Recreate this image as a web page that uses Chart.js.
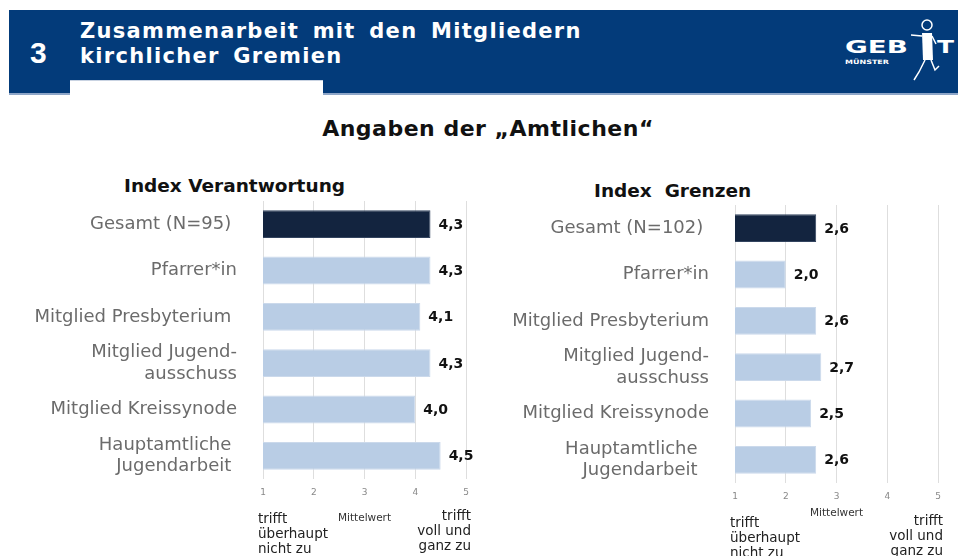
<!DOCTYPE html>
<html>
<head>
<meta charset="utf-8">
<script src="https://cdn.jsdelivr.net/npm/chart.js@4.4.1/dist/chart.umd.min.js"></script>
<style>
  body { margin: 0; width: 958px; height: 556px; position: relative; overflow: hidden; background: #fff; font-family: 'DejaVu Sans', sans-serif; }
  .abs { position: absolute; }
  #band { left: 9px; top: 10px; width: 949px; height: 83px; background: #033b7a; border-bottom: 2px solid #8ea6c8; }
  #tab { left: 70px; top: 80px; width: 253px; height: 17px; background: #fff; border-top: 1px solid #c9d3e2; }
  #num { left: 30px; top: 36px; color: #fff; font: bold 30px 'Liberation Sans', sans-serif; }
  #title { left: 80px; top: 19px; color: #fff; font: bold 21px 'DejaVu Sans', sans-serif; line-height: 25px; letter-spacing: 1.3px; word-spacing: 5px; }
  #logo { left: 843px; top: 14px; width: 115px; height: 72px; }
  #sub { left: 0; width: 976px; top: 116px; text-align: center; font: bold 22px 'DejaVu Sans', sans-serif; letter-spacing: 0.5px; color: #111; }
  .ctitle { top: 175px; font: bold 18.5px 'DejaVu Sans', sans-serif; color: #111; white-space: pre; }
  canvas { position: absolute; }
</style>
</head>
<body>
<div id="band" class="abs"></div>
<div id="tab" class="abs"></div>
<div id="num" class="abs">3</div>
<div id="title" class="abs">Zusammenarbeit mit den Mitgliedern<br>kirchlicher Gremien</div>
<svg id="logo" class="abs" viewBox="0 0 115 72">
  <text x="2" y="39" fill="#fff" font-family="DejaVu Sans" font-weight="bold" font-size="18" textLength="63" lengthAdjust="spacingAndGlyphs">GEB</text>
  <text x="94" y="39" fill="#fff" font-family="DejaVu Sans" font-weight="bold" font-size="18" textLength="17" lengthAdjust="spacingAndGlyphs">T</text>
  <text x="2" y="50" fill="#fff" font-family="DejaVu Sans" font-weight="bold" font-size="6" textLength="44" lengthAdjust="spacingAndGlyphs">MÜNSTER</text>
  <!-- running figure standing in for the I -->
  <circle cx="84" cy="11" r="5" fill="none" stroke="#fff" stroke-width="1.5"/>
  <path d="M79 19 L89 19 L90 46 L80 46 Z" fill="#fff"/>
  <path d="M79 22 L68 21 M89 22 L93 30 M82 46 L76 58 L71 66 M88 46 L92 56 L96 52" fill="none" stroke="#fff" stroke-width="1.5"/>
</svg>
<div id="sub" class="abs">Angaben der „Amtlichen“</div>
<div class="ctitle abs" style="left:124px">Index Verantwortung</div>
<div class="ctitle abs" style="left:594px;top:180px">Index  Grenzen</div>

<canvas id="left" style="left:0;top:170px" width="480" height="386"></canvas>
<canvas id="right" style="left:480px;top:170px" width="478" height="386"></canvas>

<script>
// rows, top to bottom
var groupsVerantwortung = ['Gesamt (N=95) ', 'Pfarrer*in', 'Mitglied Presbyterium ', ['Mitglied Jugend-', 'ausschuss'], 'Mitglied Kreissynode', ['Hauptamtliche ', 'Jugendarbeit ']]
var valuesVerantwortung = [4.3, 4.3, 4.1, 4.3, 4.0, 4.5]

var groupsGrenzen = ['Gesamt (N=102) ', 'Pfarrer*in', 'Mitglied Presbyterium', ['Mitglied Jugend-', 'ausschuss'], 'Mitglied Kreissynode', ['Hauptamtliche  ', 'Jugendarbeit  ']]
var valuesGrenzen = [2.6, 2.0, 2.6, 2.7, 2.5, 2.6]

var scaleTicks = [1, 2, 3, 4, 5]
var lowEndText = ['trifft', 'überhaupt', 'nicht zu']
var highEndText = ['trifft', 'voll und', 'ganz zu']
var middleText = 'Mittelwert'

var DARK = '#13243f'
var LIGHT = '#b9cde5'

Chart.defaults.font.family = "'DejaVu Sans', sans-serif"
Chart.defaults.animation = false

// "4,3" next to each bar end
var valueLabels = {
  id: 'valueLabels',
  afterDatasetsDraw(chart) {
    var ctx = chart.ctx
    var meta = chart.getDatasetMeta(0)
    ctx.save()
    ctx.font = 'bold 14px "DejaVu Sans"'
    ctx.fillStyle = '#111'
    ctx.textBaseline = 'middle'
    meta.data.forEach(function (bar, i) {
      var v = chart.data.datasets[0].data[i]
      ctx.fillText(v.toFixed(1).replace('.', ','), bar.x + 8, bar.y + 1)
    })
    ctx.restore()
  }
}

// scale captions under the axis
var scaleCaptions = {
  id: 'scaleCaptions',
  afterDraw(chart, args, opts) {
    var ctx = chart.ctx
    var x = chart.scales.x
    var bottom = chart.chartArea.bottom
    ctx.save()
    ctx.fillStyle = '#222'
    ctx.textBaseline = 'middle'
    ctx.font = '13.5px "DejaVu Sans"'
    ctx.textAlign = 'left'
    lowEndText.forEach(function (t, i) {
      ctx.fillText(t, x.getPixelForValue(1) - 5, bottom + opts.lowY + i * 15)
    })
    ctx.textAlign = 'right'
    highEndText.forEach(function (t, i) {
      ctx.fillText(t, x.getPixelForValue(5) + 5, bottom + opts.highY + i * 15)
    })
    ctx.textAlign = 'center'
    ctx.font = '10.5px "DejaVu Sans"'
    ctx.fillStyle = '#333'
    ctx.fillText(middleText, x.getPixelForValue(3), bottom + opts.midY)
    ctx.restore()
  }
}

function makeChart(el, labels, values, dims) {
  return new Chart(el, {
    type: 'bar',
    data: {
      labels: labels,
      datasets: [{
        data: values,
        backgroundColor: values.map((v, i) => i === 0 ? DARK : LIGHT),
        borderColor: values.map((v, i) => i === 0 ? '#33445f' : '#cbd9eb'),
        borderWidth: 1,
        borderSkipped: false,
        barPercentage: 0.6,
        categoryPercentage: 1
      }]
    },
    options: {
      indexAxis: 'y',
      responsive: false,
      layout: { padding: { top: dims.top, right: dims.right, left: 0, bottom: 0 } },
      plugins: {
        legend: { display: false },
        tooltip: { enabled: false },
        scaleCaptions: dims.captions
      },
      scales: {
        x: {
          min: 1,
          max: 5,
          afterBuildTicks: s => { s.ticks = scaleTicks.map(v => ({ value: v })) },
          grid: { color: '#dedede', drawTicks: false },
          border: { display: false },
          ticks: { padding: 8, color: '#888', font: { size: 9 } },
          afterFit: s => { s.height = dims.axisH }
        },
        y: {
          grid: { display: false },
          border: { display: false },
          ticks: { autoSkip: false, padding: 18, color: '#6b6b6b', font: { size: 18, lineHeight: 1.22 } },
          afterFit: s => {
            s.width = dims.labelW
            // labels stay inside the rows, no extra room above or below
            s.paddingTop = 0
            s.paddingBottom = 0
          }
        }
      }
    },
    plugins: [valueLabels, scaleCaptions]
  })
}

makeChart(document.getElementById('left'), groupsVerantwortung, valuesVerantwortung, {
  top: 31, right: 14, axisH: 77, labelW: 263,
  captions: { lowY: 40, highY: 37, midY: 39 }
})
makeChart(document.getElementById('right'), groupsGrenzen, valuesGrenzen, {
  top: 35, right: 20, axisH: 73, labelW: 255,
  captions: { lowY: 40, highY: 38, midY: 30 }
})
</script>
</body>
</html>
